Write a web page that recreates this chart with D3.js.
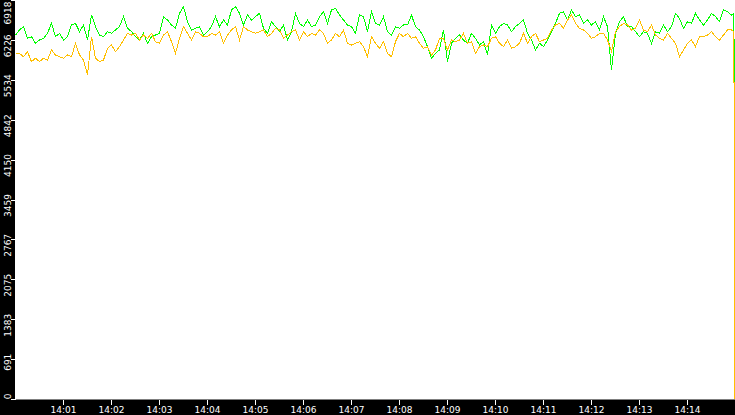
<!DOCTYPE html>
<html>
<head>
<meta charset="utf-8">
<script src="https://cdn.jsdelivr.net/npm/d3@7"></script>
<style>
  html, body { margin: 0; padding: 0; background: #fff; }
  svg { display: block; }
</style>
</head>
<body>
<svg id="chart" width="735" height="415"></svg>
<script>
// ---- data ----
const startTime = "14:00:00";
// sample offsets in seconds from startTime: every 5 s, then the last two samples before the drop
const sampleSeconds = d3.range(0, 900, 5).concat([898, 899]);

const greenValues = [
  6311,6398,6456,6253,6282,6167,6224,6253,6340,6513,6282,6340,6224,6282,6485,6513,6369,6485,6224,6658,6456,6311,6282,6369,6340,6398,6456,6629,6427,6369,
  6282,6224,6340,6167,6282,6311,6340,6629,6571,6485,6427,6687,6802,6542,6398,6427,6456,6311,6369,6456,6629,6456,6571,6485,6745,6802,6687,6485,6658,6571,
  6629,6687,6427,6340,6542,6456,6369,6485,6224,6369,6687,6513,6456,6571,6456,6485,6629,6716,6513,6745,6773,6658,6571,6485,6456,6340,6658,6629,6369,6716,
  6513,6485,6629,6369,6311,6456,6427,6485,6485,6658,6456,6398,6282,6109,5907,5993,6051,6398,5849,6167,6253,6311,6224,6167,6340,6253,6138,6196,5964,6485,
  6340,6456,6513,6485,6369,6456,6513,6571,6340,6224,6051,6167,6109,6224,6369,6513,6687,6716,6571,6745,6629,6658,6513,6571,6485,6542,6398,6629,6456,5704,
  6340,6542,6629,6456,6456,6369,6282,6369,6340,6167,6369,6340,6485,6369,6456,6687,6600,6427,6542,6513,6687,6571,6485,6571,6687,6629,6542,6745,6716,6658,
  6687,3300
];

const orangeValues = [
  5993,5993,5935,6022,5849,5907,5849,5907,5878,6051,5964,5935,5907,5964,5935,6167,5964,5878,5618,6282,5907,5849,5878,6080,6138,6022,6109,6224,6340,6311,
  6340,6224,6311,6253,6340,6196,6167,6311,6369,6196,5993,6253,6456,6340,6224,6369,6340,6282,6282,6340,6311,6369,6167,6311,6398,6456,6224,6456,6398,6369,
  6340,6369,6398,6282,6340,6427,6398,6253,6311,6369,6398,6224,6369,6282,6340,6311,6398,6340,6167,6224,6340,6282,6398,6167,6138,6167,6196,6109,5935,6282,
  6167,6080,6196,5993,5935,6196,6340,6282,6340,6253,6282,6167,6080,6109,5964,6051,6253,6253,6051,6224,6196,6224,6340,6167,6196,5993,6109,6138,6109,6253,
  6282,6167,6109,6224,6080,6109,6167,6340,6167,6282,6340,6196,6224,6253,6398,6485,6513,6427,6571,6658,6513,6427,6398,6340,6253,6282,6340,6340,6224,6022,
  6369,6456,6513,6485,6398,6427,6571,6398,6369,6485,6311,6253,6224,6340,6253,6167,5935,6051,6167,6224,6109,6282,6282,6311,6369,6282,6224,6311,6398,6398,
  6369,0
];

const yTickValues = [0, 691, 1383, 2075, 2767, 3459, 4150, 4842, 5534, 6226, 6918];
const yMax = 6918;
const xTickLabels = ["14:01","14:02","14:03","14:04","14:05","14:06","14:07","14:08","14:09","14:10","14:11","14:12","14:13","14:14"];
const xStart = "14:00", xEnd = "14:15";

// ---- layout ----
const W = 735, H = 415;
const left = 15, bottom = 399;
const svg = d3.select("#chart");
const parseHM = d3.timeParse("%H:%M");
const parseHMS = d3.timeParse("%H:%M:%S");
const t0 = parseHMS(startTime);
const times = sampleSeconds.map(s => d3.timeSecond.offset(t0, s));

const x = d3.scaleTime().domain([parseHM(xStart), parseHM(xEnd)]).range([left, W]);
const y = d3.scaleLinear().domain([0, yMax]).range([bottom, 0]);

svg.append("rect").attr("x", 0).attr("y", 0).attr("width", W).attr("height", H).attr("fill", "#fff");

// series
const line = d3.line().x((d, i) => x(times[i]) + 0.5).y(d => y(d));
svg.append("path").datum(greenValues).attr("d", line)
  .attr("fill", "none").attr("stroke", "#00ff00").attr("stroke-width", 1)
  .attr("shape-rendering", "crispEdges");
svg.append("path").datum(orangeValues).attr("d", line)
  .attr("fill", "none").attr("stroke", "#ffbf00").attr("stroke-width", 1)
  .attr("shape-rendering", "crispEdges");

// black axis bands
svg.append("rect").attr("x", 0).attr("y", 0).attr("width", left).attr("height", H).attr("fill", "#000");
svg.append("rect").attr("x", 0).attr("y", bottom + 0.5).attr("width", W).attr("height", H - bottom).attr("fill", "#000");

// y axis
const yAxis = d3.axisLeft(y).tickValues(yTickValues).tickSize(5).tickSizeOuter(0).tickFormat(d3.format("d"));
const gy = svg.append("g").attr("transform", `translate(${left + 0.5},0)`).call(yAxis);
gy.select(".domain").remove();
gy.selectAll(".tick line").attr("stroke", "#fff").attr("shape-rendering", "crispEdges");
gy.selectAll(".tick text")
  .attr("fill", "#fff")
  .attr("font-family", "DejaVu Sans")
  .attr("font-size", 9)
  .attr("x", 0).attr("dy", 0)
  .attr("text-anchor", "end")
  .attr("transform", d => {
    const ty = y(d);
    const top = Math.max(ty - 6, 1);
    return `translate(-5,${top - ty}) rotate(-90)`;
  });

// x axis
const xTickDates = xTickLabels.map(parseHM);
const xAxis = d3.axisBottom(x).tickValues(xTickDates).tickSize(5).tickSizeOuter(0)
  .tickFormat((d, i) => xTickLabels[i]);
const gx = svg.append("g").attr("transform", `translate(0,${bottom + 1})`).call(xAxis);
gx.select(".domain").remove();
gx.selectAll(".tick line").attr("stroke", "#fff").attr("shape-rendering", "crispEdges");
gx.selectAll(".tick text")
  .attr("fill", "#fff")
  .attr("font-family", "DejaVu Sans")
  .attr("font-size", 9)
  .attr("y", 7);
</script>
</body>
</html>
